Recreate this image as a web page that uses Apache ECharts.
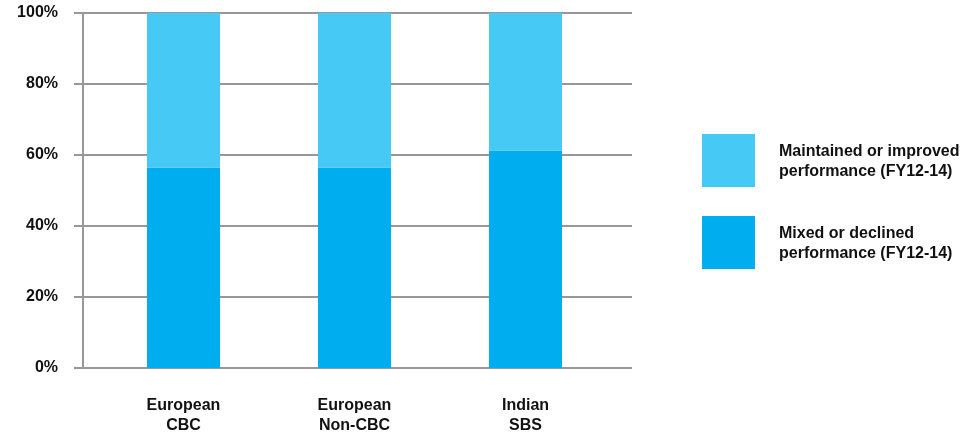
<!DOCTYPE html>
<html>
<head>
<meta charset="utf-8">
<script src="https://cdn.jsdelivr.net/npm/echarts@6/dist/echarts.min.js"></script>
<style>
  html, body { margin: 0; padding: 0; background: #fff; }
  #chart { width: 978px; height: 434px; }
</style>
</head>
<body>
<div id="chart"></div>
<script>
// Programme groups shown on the x axis
const categories = ['European\nCBC', 'European\nNon-CBC', 'Indian\nSBS'];
// Share of organisations (%) in each performance group
const mixedOrDeclined = [56.5, 56.5, 61.3];
const maintainedOrImproved = [43.5, 43.5, 38.7];
// Percent ticks on the value axis
const yTicks = [0, 20, 40, 60, 80, 100];

const seriesNames = {
  up: 'Maintained or improved\nperformance (FY12-14)',
  down: 'Mixed or declined\nperformance (FY12-14)'
};

const FONT = '"Liberation Sans", Arial, Helvetica, sans-serif';
const GRID_COLOR = '#98989c';
const TEXT_COLOR = '#111';
const FONT_SIZE = 16;
const TOP = 13, BOTTOM = 434 - 368;

const chart = echarts.init(document.getElementById('chart'), null, { renderer: 'canvas' });

chart.setOption({
  animation: false,
  textStyle: { fontFamily: FONT },
  grid: [
    // frame: y axis, gridlines and tick labels
    { left: 83, width: 549, top: TOP, bottom: BOTTOM, outerBoundsMode: 'none', containLabel: false },
    // bars
    { left: 98, width: 513, top: TOP, bottom: BOTTOM, outerBoundsMode: 'none', containLabel: false }
  ],
  legend: {
    orient: 'vertical',
    left: 702,
    top: 134,
    padding: 0,
    itemWidth: 53,
    itemHeight: 53,
    itemGap: 29,
    icon: 'rect',
    data: [seriesNames.up, seriesNames.down],
    // each line as a rich token so the block can sit a little below the swatch centre
    formatter: name => name.split('\n').map(s => '{t|' + s + '}').join('\n'),
    textStyle: {
      fontFamily: FONT,
      fontSize: FONT_SIZE,
      fontWeight: 'bold',
      color: TEXT_COLOR,
      lineHeight: 20,
      padding: [0, 0, 0, 19],
      rich: {
        t: {
          fontFamily: FONT,
          fontSize: FONT_SIZE,
          fontWeight: 'bold',
          color: TEXT_COLOR,
          lineHeight: 20,
          padding: [3, 0, 0, 0]
        }
      }
    }
  },
  xAxis: [
    {
      gridIndex: 0, type: 'value', min: 0, max: 1,
      axisLine: { show: false }, axisTick: { show: false },
      axisLabel: { show: false }, splitLine: { show: false }
    },
    {
      gridIndex: 1, type: 'category', data: categories,
      axisLine: { show: false }, axisTick: { show: false },
      axisLabel: {
        margin: 28,
        fontFamily: FONT,
        fontSize: FONT_SIZE,
        fontWeight: 'bold',
        color: TEXT_COLOR,
        lineHeight: 20
      }
    }
  ],
  yAxis: [
    {
      gridIndex: 0, type: 'value', min: yTicks[0], max: yTicks[yTicks.length - 1], interval: 20,
      axisLine: { show: true, lineStyle: { color: GRID_COLOR, width: 2 } },
      axisTick: { show: true, inside: false, length: 9, lineStyle: { color: GRID_COLOR, width: 2 } },
      splitLine: { show: true, lineStyle: { color: GRID_COLOR, width: 2 } },
      axisLabel: {
        margin: 25,
        fontFamily: FONT,
        fontSize: FONT_SIZE,
        fontWeight: 'bold',
        color: TEXT_COLOR,
        formatter: v => yTicks.includes(v) ? v + '%' : ''
      }
    },
    {
      gridIndex: 1, type: 'value', min: 0, max: 100,
      axisLine: { show: false }, axisTick: { show: false },
      axisLabel: { show: false }, splitLine: { show: false }
    }
  ],
  series: [
    {
      name: seriesNames.down,
      type: 'bar',
      xAxisIndex: 1, yAxisIndex: 1,
      stack: 'share',
      barWidth: 73,
      itemStyle: { color: '#00aeef' },
      data: mixedOrDeclined
    },
    {
      name: seriesNames.up,
      type: 'bar',
      xAxisIndex: 1, yAxisIndex: 1,
      stack: 'share',
      barWidth: 73,
      itemStyle: { color: '#47c9f6' },
      data: maintainedOrImproved
    }
  ]
});
</script>
</body>
</html>
